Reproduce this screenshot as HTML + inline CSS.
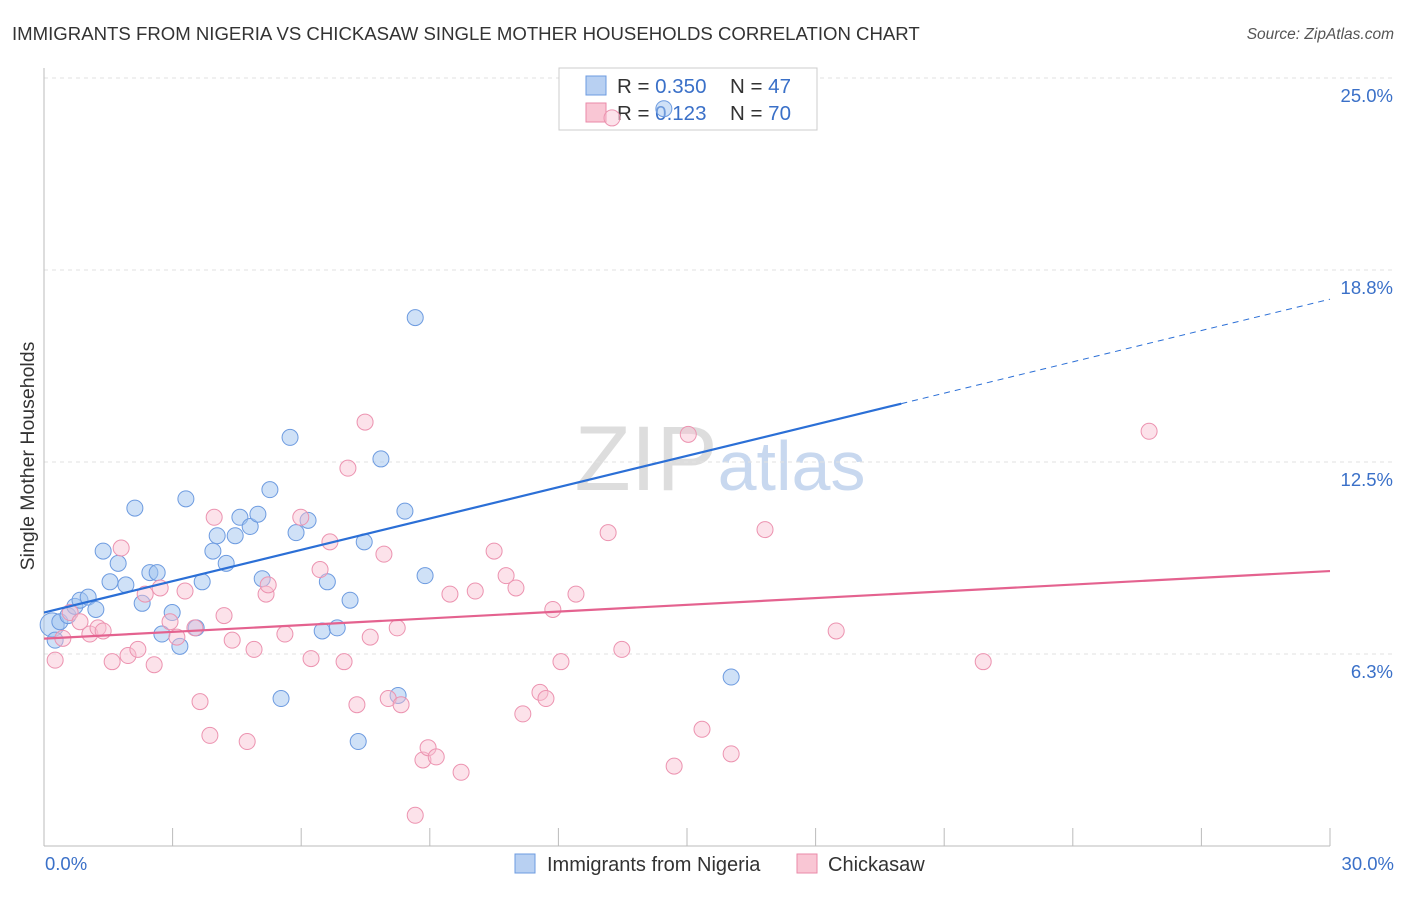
<!DOCTYPE html>
<html><head><meta charset="utf-8"><style>
body{margin:0;background:#fff;font-family:"Liberation Sans",sans-serif}
svg text{font-family:"Liberation Sans",sans-serif}
</style></head><body>
<svg width="1406" height="892">
<text x="12" y="40" font-size="18.6" fill="#333">IMMIGRANTS FROM NIGERIA VS CHICKASAW SINGLE MOTHER HOUSEHOLDS CORRELATION CHART</text>
<text x="1394" y="39" font-size="15.5" fill="#555" text-anchor="end" font-style="italic">Source: ZipAtlas.com</text>
<text x="720" y="490" font-size="92" fill="#ddd" text-anchor="middle" font-family="Liberation Serif">ZIP<tspan fill="#c8d8ef" font-family="Liberation Sans" font-size="70">atlas</tspan></text>
<g id="grid"></g><g id="axes"></g>
<g>
<rect x="559" y="68" width="258" height="62" fill="#fff" stroke="#ccc"/>
<rect x="586" y="76" width="20" height="19" fill="#b8d0f2" stroke="#6d9be0"/>
<rect x="586" y="103" width="20" height="19" fill="#f9c6d4" stroke="#ea8aa8"/>
<text x="617" y="93" font-size="20.5" fill="#333">R = <tspan fill="#3a70c8">0.350</tspan></text>
<text x="730" y="93" font-size="20.5" fill="#333">N = <tspan fill="#3a70c8">47</tspan></text>
<text x="617" y="120" font-size="20.5" fill="#333">R = <tspan fill="#3a70c8"> 0.123</tspan></text>
<text x="730" y="120" font-size="20.5" fill="#333">N = <tspan fill="#3a70c8">70</tspan></text>
</g>
<g id="pts"></g><g id="lines"></g>
<text x="34" y="456" font-size="19.5" fill="#333" text-anchor="middle" transform="rotate(-90 34 456)">Single Mother Households</text>
<text x="45" y="870" font-size="18.5" fill="#3a70c8">0.0%</text>
<text x="1394" y="870" font-size="18.5" fill="#3a70c8" text-anchor="end">30.0%</text>
<g>
<rect x="515" y="854" width="20" height="19" fill="#b8d0f2" stroke="#6d9be0"/>
<text x="547" y="871" font-size="20" fill="#333">Immigrants from Nigeria</text>
<rect x="797" y="854" width="20" height="19" fill="#f9c6d4" stroke="#ea8aa8"/>
<text x="828" y="871" font-size="20" fill="#333">Chickasaw</text>
</g>
</svg>
<script>
const yTicks=[6.25,12.5,18.75,25];
const yTickLabels=["6.3%","12.5%","18.8%","25.0%"];
const xTicks=[0,3,6,9,12,15,18,21,24,27,30];
const blueX=[0.19,0.26,0.37,0.56,0.72,0.84,1.03,1.21,1.38,1.54,1.73,1.91,2.12,2.29,2.47,2.64,2.75,2.99,3.17,3.31,3.55,3.69,3.94,4.04,4.25,4.46,4.57,4.81,4.99,5.09,5.27,5.53,5.74,5.88,6.16,6.49,6.61,6.84,7.14,7.33,7.47,7.86,8.26,8.42,8.66,8.89,16.03,14.46];
const blueY=[7.2,6.7,7.3,7.5,7.8,8.0,8.1,7.7,9.6,8.6,9.2,8.5,11.0,7.9,8.9,8.9,6.9,7.6,6.5,11.3,7.1,8.6,9.6,10.1,9.2,10.1,10.7,10.4,10.8,8.7,11.6,4.8,13.3,10.2,10.6,7.0,8.6,7.1,8.0,3.4,9.9,12.6,4.9,10.9,17.2,8.8,5.5,24.0];
const pinkX=[0.26,0.44,0.61,0.84,1.07,1.26,1.38,1.59,1.80,1.96,2.19,2.36,2.57,2.71,2.94,3.10,3.29,3.52,3.64,3.87,3.97,4.20,4.39,4.74,4.90,5.18,5.23,5.62,5.99,6.23,6.44,6.67,7.00,7.09,7.30,7.49,7.61,7.93,8.03,8.24,8.33,8.66,8.84,8.96,9.15,9.47,9.73,10.06,10.50,10.78,11.01,11.17,11.57,11.71,11.87,12.06,12.41,13.16,13.48,14.70,15.03,15.35,16.03,16.82,18.48,21.91,25.78,13.25];
const pinkY=[6.05,6.76,7.6,7.3,6.9,7.1,7.0,6.0,9.7,6.2,6.4,8.2,5.9,8.4,7.3,6.8,8.3,7.1,4.7,3.6,10.7,7.5,6.7,3.4,6.4,8.2,8.5,6.9,10.7,6.1,9.0,9.9,6.0,12.3,4.6,13.8,6.8,9.5,4.8,7.1,4.6,1.0,2.8,3.2,2.9,8.2,2.4,8.3,9.6,8.8,8.4,4.3,5.0,4.8,7.7,6.0,8.2,10.2,6.4,2.6,13.4,3.8,3.0,10.3,7.0,6.0,13.5,23.7];
const blueFit=[7.6,17.8];
const pinkFit=[6.75,8.95];
const NS="http://www.w3.org/2000/svg";
const X=v=>44+v/30*1286, Y=v=>846-v*30.72;
function mk(t,a,p){const e=document.createElementNS(NS,t);for(const k in a)e.setAttribute(k,a[k]);p.appendChild(e);return e;}
const grid=document.getElementById('grid'),axes=document.getElementById('axes'),pts=document.getElementById('pts'),lines=document.getElementById('lines');
yTicks.forEach((v,i)=>{
 const l=mk('line',{x1:44,x2:1394,y1:Y(v),y2:Y(v),stroke:'#e2e2e2','stroke-dasharray':'4,4'},grid);
 
 
 const t=mk('text',{x:1393,y:Y(v)+24,'font-size':18.5,fill:'#3a70c8','text-anchor':'end'},grid);
 t.textContent=yTickLabels[i];
 
 
});
const ax=mk('line',{x1:44,x2:44,y1:68,y2:846,stroke:'#bbb'},axes);


const bx=mk('line',{x1:44,x2:1330,y1:846,y2:846,stroke:'#bbb'},axes);


xTicks.forEach(v=>{
 const t=mk('line',{x1:X(v),x2:X(v),y1:828,y2:846,stroke:'#bbb'},axes);
 
 
});
blueX.forEach((v,i)=>{
 const c=mk('circle',{cx:X(v),cy:Y(blueY[i]),r:i==0?12:8,fill:'rgba(160,196,240,0.5)',stroke:'#6d9be0','stroke-width':1},pts);
 
 
});
pinkX.forEach((v,i)=>{
 const c=mk('circle',{cx:X(v),cy:Y(pinkY[i]),r:8,fill:'rgba(249,190,208,0.45)',stroke:'#ec93b0','stroke-width':1},pts);
 
 
});
const bAt=x=>blueFit[0]+(blueFit[1]-blueFit[0])*x/30;
const l1=mk('line',{x1:X(0),y1:Y(bAt(0)),x2:X(20),y2:Y(bAt(20)),stroke:'#2b6fd6','stroke-width':2.2},lines);


const l2=mk('line',{x1:X(20),y1:Y(bAt(20)),x2:X(30),y2:Y(bAt(30)),stroke:'#2b6fd6','stroke-width':1,'stroke-dasharray':'6,5'},lines);


const l3=mk('line',{x1:X(0),y1:Y(pinkFit[0]),x2:X(30),y2:Y(pinkFit[1]),stroke:'#e4628f','stroke-width':2.2},lines);


</script>
</body></html>
